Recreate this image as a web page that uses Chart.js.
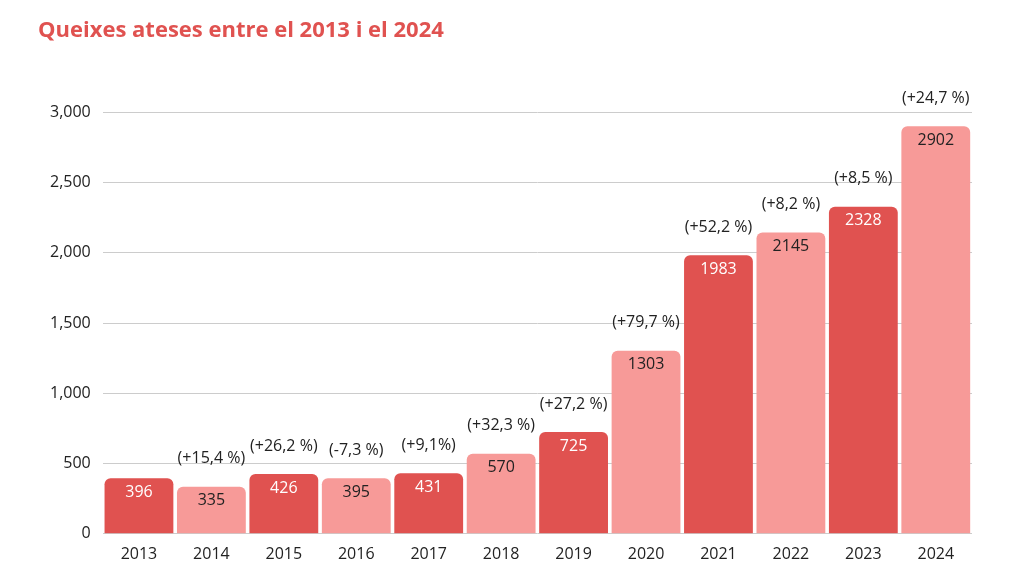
<!DOCTYPE html>
<html>
<head>
<meta charset="utf-8">
<script src="https://cdn.jsdelivr.net/npm/chart.js@4"></script>
<style>
  body { margin: 0; background: #fff; }
  #wrap { width: 1012px; height: 573px; }
</style>
</head>
<body>
<div id="wrap"><canvas id="queixes"></canvas></div>
<script>
const years = ['2013','2014','2015','2016','2017','2018','2019','2020','2021','2022','2023','2024'];
const cases = [396, 335, 426, 395, 431, 570, 725, 1303, 1983, 2145, 2328, 2902];
const changes = ['', '(+15,4 %)', '(+26,2 %)', '(-7,3 %)', '(+9,1%)', '(+32,3 %)', '(+27,2 %)',
  '(+79,7 %)', '(+52,2 %)', '(+8,2 %)', '(+8,5 %)', '(+24,7 %)'];

const dark = '#e05250';
const light = '#f79a98';
const barColors = years.map((y, i) => i % 2 ? light : dark);

// value inside the bar top, change label above it
const barLabels = {
  id: 'barLabels',
  afterDatasetsDraw(chart) {
    const ctx = chart.ctx;
    const meta = chart.getDatasetMeta(0);
    ctx.save();
    ctx.font = '16px "Open Sans"';
    ctx.textAlign = 'center';
    ctx.textBaseline = 'middle';
    meta.data.forEach((bar, i) => {
      ctx.fillStyle = i % 2 ? '#222' : '#fff';
      ctx.fillText(cases[i], bar.x, bar.y + 14);
      if (changes[i]) {
        ctx.fillStyle = '#222';
        ctx.fillText(changes[i], bar.x, bar.y - 28);
      }
    });
    ctx.restore();
  }
};

new Chart('queixes', {
  type: 'bar',
  data: {
    labels: years,
    datasets: [{
      data: cases,
      backgroundColor: barColors,
      borderRadius: { topLeft: 6, topRight: 6 },
      borderSkipped: 'bottom',
      barPercentage: 0.95,
      categoryPercentage: 1,
    }],
  },
  options: {
    responsive: true,
    maintainAspectRatio: false,
    animation: false,
    layout: { padding: { left: 38, right: 40, top: 10, bottom: 6 } },
    plugins: {
      legend: { display: false },
      tooltip: { enabled: false },
      title: {
        display: true,
        text: 'Queixes ateses entre el 2013 i el 2024',
        align: 'start',
        color: dark,
        font: { family: '"Open Sans"', size: 22, weight: 'bold' },
        padding: { top: 8, bottom: 68 },
      },
    },
    scales: {
      x: {
        grid: { display: false },
        border: { display: false },
        ticks: { color: '#222', font: { family: '"Open Sans"', size: 16 } },
      },
      y: {
        min: 0,
        max: 3000,
        ticks: { stepSize: 500, color: '#222', padding: 12, font: { family: '"Open Sans"', size: 16 } },
        grid: { color: '#cccccc', drawTicks: false },
        border: { display: false },
      },
    },
  },
  plugins: [barLabels],
});
</script>
</body>
</html>
